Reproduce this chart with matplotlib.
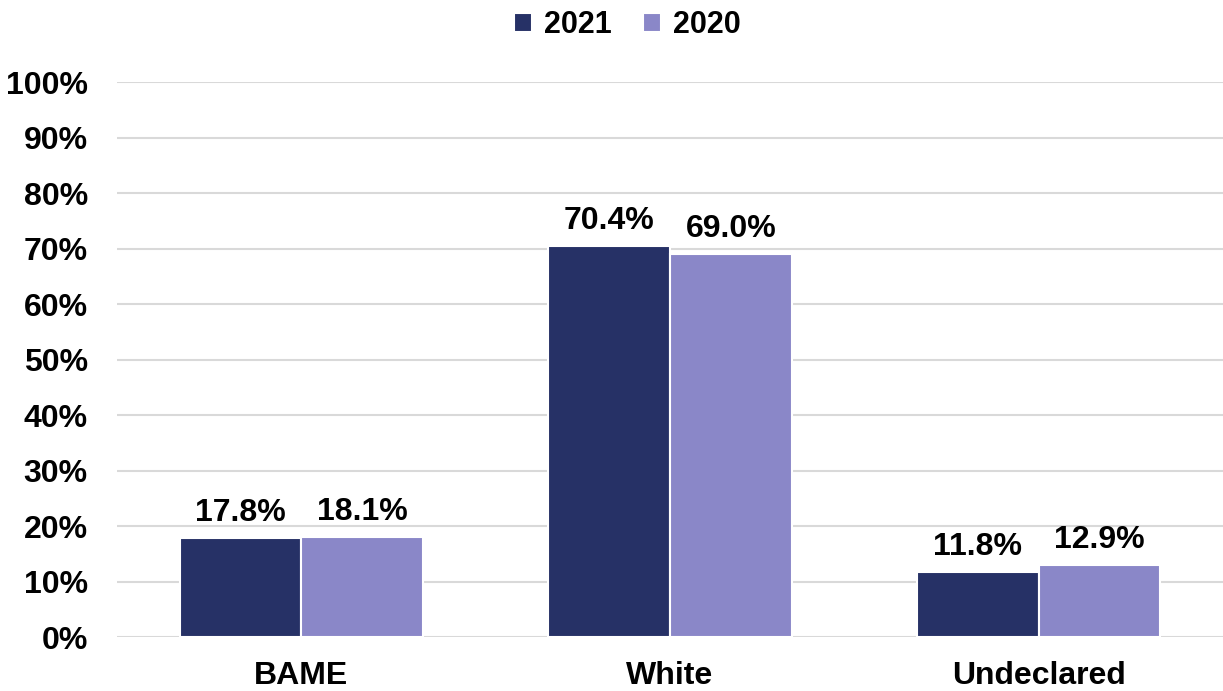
import matplotlib
matplotlib.use("Agg")
import matplotlib.pyplot as plt
import numpy as np

categories = ["BAME", "White", "Undeclared"]
series_names = ["2021", "2020"]
values_2021 = [17.8, 70.4, 11.8]
values_2020 = [18.1, 69.0, 12.9]
yticks = list(range(0, 101, 10))

plt.rcParams['font.family'] = ['Liberation Sans', 'DejaVu Sans']
plt.rcParams['font.weight'] = 'bold'

fig = plt.figure(figsize=(12.23, 6.91), dpi=100)
ax = fig.add_axes([0.0957, 0.0781, 0.9043, 0.8032])

x = np.arange(len(categories))
w = 0.33
c1 = "#263166"
c2 = "#8A87C8"
b1 = ax.bar(x - w/2, values_2021, w, color=c1, edgecolor="white", linewidth=1.5, label=series_names[0], zorder=3)
b2 = ax.bar(x + w/2, values_2020, w, color=c2, edgecolor="white", linewidth=1.5, label=series_names[1], zorder=3)

for bars, vals in [(b1, values_2021), (b2, values_2020)]:
    for r, v in zip(bars, vals):
        ax.text(r.get_x() + r.get_width()/2, v + 1.8, f"{v:.1f}%", ha="center", va="bottom",
                fontsize=23, fontweight="bold")

ax.set_xlim(-0.5, 2.5)
ax.set_ylim(0, 100)
ax.set_yticks(yticks)
ax.set_yticklabels([f"{t}%" for t in yticks], fontsize=23, fontweight="bold")
ax.set_xticks(x)
ax.set_xticklabels(categories, fontsize=23, fontweight="bold")
ax.tick_params(axis="both", length=0)
ax.tick_params(axis="y", pad=21)
ax.tick_params(axis="x", pad=17)
ax.grid(axis="y", color="#d9d9d9", linewidth=1.5, zorder=0)
for s in ax.spines.values():
    s.set_visible(False)

leg = fig.legend(handles=[b1, b2], labels=series_names, loc="upper center", bbox_to_anchor=(0.513, 1.025),
                 ncol=2, frameon=False, fontsize=22, handlelength=0.6, handleheight=0.6,
                 handletextpad=0.4, columnspacing=1.0)
for t in leg.get_texts():
    t.set_fontweight("bold")

fig.savefig("out.png", dpi=100)
